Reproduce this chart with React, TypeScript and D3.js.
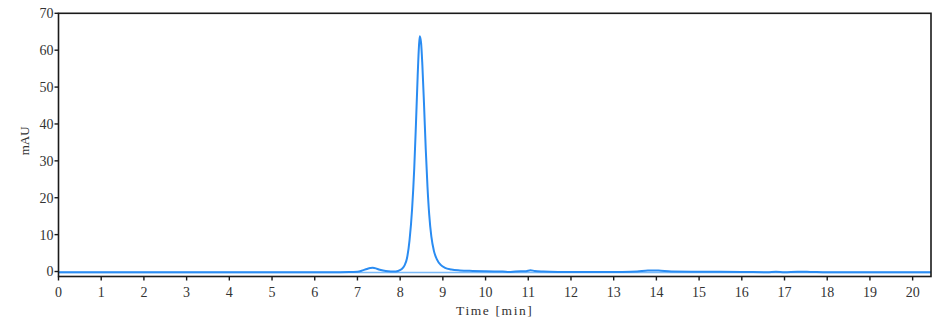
import React from "react";
import * as d3 from "d3";

const times: number[] = [
  0, 1, 2, 3, 4, 5, 6, 6.8, 7.0, 7.12, 7.22, 7.3, 7.36, 7.43, 7.5, 7.6, 7.72, 7.85,
  7.95, 8.03, 8.1, 8.16, 8.22, 8.28, 8.33, 8.37, 8.41, 8.44, 8.46, 8.49, 8.52,
  8.56, 8.6, 8.64, 8.68, 8.73, 8.79, 8.86, 8.95, 9.05, 9.2, 9.4, 9.7, 10.0,
  10.4, 10.55, 10.7, 10.95, 11.05, 11.15, 11.35, 11.7, 12.5, 13.2, 13.55, 13.8,
  14.05, 14.35, 15, 16, 16.6, 16.8, 17.0, 17.3, 17.6, 18, 19, 20, 20.43,
];
const signal: number[] = [
  -0.2, -0.2, -0.2, -0.2, -0.2, -0.2, -0.2, -0.15, -0.05, 0.3, 0.7, 0.95, 1.0, 0.85, 0.55, 0.25, 0.05, 0.0,
  0.15, 0.6, 1.6, 3.6, 8.5, 17, 28, 40, 53, 61, 63.8, 62, 56,
  45, 33, 23, 15.5, 9.5, 5.6, 3.3, 1.8, 1.0, 0.55, 0.3, 0.15, 0.05,
  0.0, -0.15, 0.0, 0.1, 0.35, 0.15, 0.0, -0.1, -0.15, -0.1, 0.0, 0.3,
  0.25, 0.0, -0.05, -0.1, -0.2, -0.05, -0.2, -0.05, -0.1, -0.2, -0.2, -0.2, -0.2,
];
const baselineValue = -0.25;

const xTicks: number[] = Array.from({ length: 21 }, (_, i) => i);
const yTicks: number[] = [0, 10, 20, 30, 40, 50, 60, 70];
const xDomain: [number, number] = [0, 20.43];
const yDomain: [number, number] = [-1.35, 70];
const xLabel = "Time [min]";
const yLabel = "mAU";

export default function App() {
  const W = 945;
  const H = 331;
  const m = { left: 58.5, right: 931, top: 13.3, bottom: 276.5 };
  const x = d3.scaleLinear().domain(xDomain).range([m.left, m.right]);
  const y = d3.scaleLinear().domain(yDomain).range([m.bottom, m.top]);
  const pts = times.map((t, i) => [t, signal[i]] as [number, number]);
  const line = d3
    .line<[number, number]>()
    .x((d) => x(d[0]))
    .y((d) => y(d[1]))
    .curve(d3.curveMonotoneX);
  const font = "'Liberation Serif', 'DejaVu Serif', serif";
  return (
    <svg
      width={W}
      height={H}
      style={{ position: "absolute", left: 0, top: 0, background: "#fff" }}
    >
      <line
        x1={x(xDomain[0])}
        x2={x(xDomain[1])}
        y1={y(baselineValue)}
        y2={y(baselineValue)}
        stroke="#7ab9f6"
        strokeWidth={1.5}
      />
      <path d={line(pts) || ""} fill="none" stroke="#2a8cf2" strokeWidth={2} />
      <rect
        x={m.left}
        y={m.top}
        width={m.right - m.left}
        height={m.bottom - m.top}
        fill="none"
        stroke="#1a1a1a"
        strokeWidth={1.6}
      />
      {yTicks.map((t) => (
        <g key={"y" + t}>
          <line x1={m.left - 4} x2={m.left} y1={y(t)} y2={y(t)} stroke="#1a1a1a" strokeWidth={1.4} />
          <text
            x={m.left - 5}
            y={y(t)}
            dy="0.35em"
            textAnchor="end"
            fontFamily={font}
            fontSize={14}
            fill="#333"
          >
            {t}
          </text>
        </g>
      ))}
      {xTicks.map((t) => (
        <g key={"x" + t}>
          <line x1={x(t)} x2={x(t)} y1={m.bottom} y2={m.bottom + 4} stroke="#1a1a1a" strokeWidth={1.4} />
          <text
            x={x(t)}
            y={m.bottom + 20}
            textAnchor="middle"
            fontFamily={font}
            fontSize={14}
            fill="#333"
          >
            {t}
          </text>
        </g>
      ))}
      <text
        x={(m.left + m.right) / 2}
        y={315}
        textAnchor="middle"
        fontFamily={font}
        fontSize={13.5}
        letterSpacing={1.6}
        fill="#333"
      >
        {xLabel}
      </text>
      <text
        transform={`translate(29, ${(m.top + m.bottom) / 2 - 4}) rotate(-90)`}
        textAnchor="middle"
        fontFamily={font}
        fontSize={13}
        fill="#333"
      >
        {yLabel}
      </text>
    </svg>
  );
}
